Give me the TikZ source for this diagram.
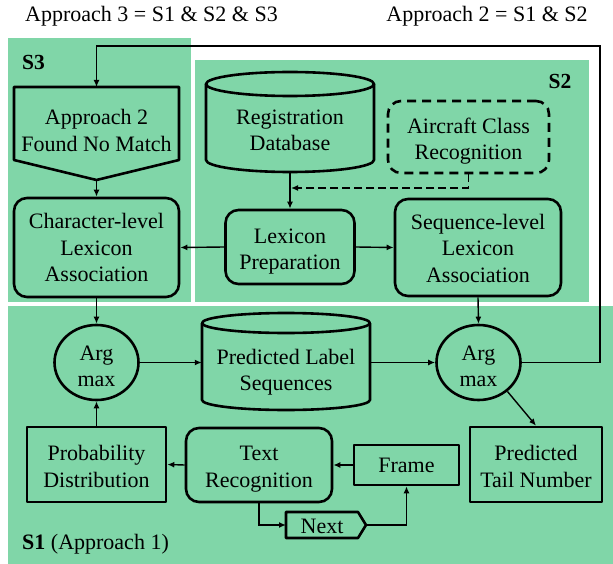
\documentclass[tikz,border=0pt]{standalone}
\usepackage{fontspec}
\setmainfont{Liberation Serif}
\usetikzlibrary{arrows.meta,shapes.geometric,calc}
\definecolor{panelgreen}{RGB}{128,214,168}
% zero-width strut that raises the height of a first text line
\newcommand\tallline[1]{\rule{0pt}{#1}}
\begin{document}
\begin{tikzpicture}[x=1pt,y=-1pt,
  every node/.style={font=\fontsize{22}{26.5}\selectfont, align=center, inner sep=0pt},
  outline/.style={draw=black, line width=2.6pt, line join=round},
  roundbox/.style={outline, rounded corners=13pt},
  flow/.style={draw=black, line width=1.4pt, -{Latex[length=7pt,width=6pt]}},
  dashflow/.style={flow, dash pattern=on 8pt off 4pt},
  tag/.style={font=\fontsize{21.5}{26.5}\selectfont\bfseries},
]
\useasboundingbox (0,0) rectangle (613,564);
\fill[white] (0,0) rectangle (613,564);

% stage panels
\fill[panelgreen] (8,38) rectangle (191,302);
\fill[panelgreen] (195,60) rectangle (589,302);
\fill[panelgreen] (8,306) rectangle (613,564);

% headings
\node[anchor=base] (head3) at (151.5,22) {Approach 3 = S1 \& S2 \& S3};
\node[anchor=base] (head2) at (487,22) {Approach 2 = S1 \& S2};
\node[tag] (tagS3) at (33.5,62) {S3};
\node[tag] (tagS2) at (560,81) {S2};
\node[anchor=base west] (tagS1) at (22,549) {\textbf{S1} (Approach 1)};

% S3
\draw[outline] (14,87) -- (179,87) -- (179,160) -- (96.5,180) -- (14,160) -- cycle;
\node (nomatch) at (96.5,130.5) {Approach 2\\Found No Match};
\coordinate (nomatch-top) at (96.5,87);
\coordinate (nomatch-tip) at (96.5,180);
\node[roundbox, minimum width=165pt, minimum height=99pt] (charlex) at (96.5,247.5) {Character-level\\Lexicon\\Association};

% S2
\draw[outline] (290,84) ellipse [x radius=84, y radius=12];
\draw[outline] (206,84) -- (206,160) arc[start angle=180, end angle=0, x radius=84, y radius=12] -- (374,84);
\node[minimum width=168pt, minimum height=86pt] (regdb) at (290,129) {\tallline{17pt}Registration\\Database};
\node[roundbox, dash pattern=on 9pt off 6pt, minimum width=161pt, minimum height=72pt] (aircraft) at (468.5,137) {\tallline{24pt}Aircraft Class\\Recognition};
\node[roundbox, minimum width=129pt, minimum height=74pt] (lexprep) at (290,247) {\tallline{24pt}Lexicon\\Preparation};
\node[roundbox, minimum width=166pt, minimum height=97pt] (seqlex) at (478,247.5) {\tallline{17pt}Sequence-level\\Lexicon\\Association};
\coordinate (dbjoin) at (291,188);

% S1
\node[outline, ellipse, minimum width=84pt, minimum height=75pt] (argL) at (96.5,362.5) {\tallline{22pt}Arg\\max};
\node[outline, ellipse, minimum width=84pt, minimum height=75pt] (argR) at (478.5,362.5) {\tallline{22pt}Arg\\max};
\draw[outline] (286,323) ellipse [x radius=84, y radius=10];
\draw[outline] (202,323) -- (202,400) arc[start angle=180, end angle=0, x radius=84, y radius=10] -- (370,323);
\node[minimum width=168pt, minimum height=80pt] (predseq) at (286,370) {\tallline{20pt}Predicted Label\\Sequences};
\node[outline, minimum width=132pt, minimum height=75pt] (tail) at (536,464.5) {\tallline{19pt}Predicted\\Tail Number};
\node[outline, minimum width=139pt, minimum height=75pt] (prob) at (96.5,464.5) {\tallline{19pt}Probability\\Distribution};
\node[roundbox, minimum width=146pt, minimum height=74pt] (textrec) at (259,465) {\tallline{23pt}Text\\Recognition};
\node[outline, minimum width=105pt, minimum height=40pt] (frame) at (406.5,465) {Frame};
\draw[outline] (286,512) -- (358,512) -- (366,525) -- (358,538) -- (286,538) -- cycle;
\node (next) at (322,525) {\tallline{18pt}Next};
\coordinate (next-in) at (286,525);
\coordinate (next-tip) at (366,525);

% feedback loop from S1 back to S3
\coordinate (loopR) at (600,46);
\draw[flow] (argR.east) -| (loopR) -| (nomatch-top);

% connectors
\draw[flow] (nomatch-tip) -- (charlex.north);
\draw[flow] (regdb.south) -- (lexprep.north);
\draw[dashflow] (aircraft.south) |- (dbjoin);
\draw[flow] (lexprep.west) -- (charlex.east);
\draw[flow] (lexprep.east) -- (seqlex.west);
\draw[flow] (seqlex.south) -- (argR.north);
\draw[flow] (charlex.south) -- (argL.north);
\draw[flow] (argL.east) -- (argL.east -| predseq.west);
\draw[flow] (predseq.east |- argR.west) -- (argR.west);
\draw[flow] (argR.-45) -- (tail.north);
\draw[flow] (prob.north) -- (argL.south);
\draw[flow] (textrec.west) -- (prob.east);
\draw[flow] (frame.west) -- (textrec.east);
\draw[flow] (textrec.south) |- (next-in);
\draw[flow] (next-tip) -| (frame.south);
\end{tikzpicture}
\end{document}
